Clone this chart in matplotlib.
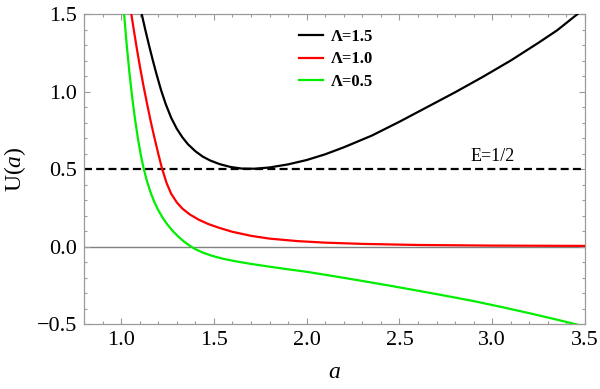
"""Potential U(a) for three values of Lambda, with the E=1/2 level."""

import matplotlib
matplotlib.use('Agg')
import matplotlib.pyplot as plt
from matplotlib.ticker import MultipleLocator, FuncFormatter

plt.rcParams['font.family'] = ['Liberation Serif', 'DejaVu Serif']
plt.rcParams['mathtext.fontset'] = 'custom'
plt.rcParams['mathtext.rm'] = 'Liberation Serif'
plt.rcParams['mathtext.it'] = 'Liberation Serif:italic'

# values
a_black = [1.111, 1.13, 1.15, 1.17, 1.19, 1.215, 1.24, 1.27, 1.30, 1.33, 1.36,
           1.40, 1.44, 1.48, 1.53, 1.59, 1.65, 1.72, 1.80, 1.90, 2.00, 2.10,
           2.20, 2.35, 2.50, 2.65, 2.80, 2.95, 3.10, 3.25, 3.35, 3.46]
u_black = [1.50, 1.40, 1.30, 1.205, 1.115, 1.01, 0.92, 0.83, 0.76, 0.705, 0.66,
           0.615, 0.58, 0.555, 0.532, 0.513, 0.503, 0.502, 0.51, 0.53, 0.558, 0.595,
           0.64, 0.715, 0.805, 0.90, 0.995, 1.095, 1.20, 1.315, 1.395, 1.50]

a_red = [1.055, 1.07, 1.085, 1.10, 1.12, 1.14, 1.16, 1.18, 1.20, 1.22, 1.245,
         1.27, 1.30, 1.33, 1.37, 1.42, 1.47, 1.53, 1.60, 1.70, 1.80, 1.95,
         2.10, 2.30, 2.60, 3.00, 3.50]
u_red = [1.50, 1.385, 1.275, 1.17, 1.04, 0.92, 0.805, 0.70, 0.60, 0.505, 0.41,
         0.34, 0.285, 0.245, 0.207, 0.172, 0.145, 0.12, 0.095, 0.069, 0.051, 0.035,
         0.025, 0.017, 0.01, 0.006, 0.004]

a_green = [1.016, 1.03, 1.045, 1.06, 1.075, 1.09, 1.105, 1.12, 1.14, 1.16, 1.18,
           1.20, 1.225, 1.25, 1.28, 1.31, 1.34, 1.37, 1.40, 1.44, 1.49, 1.55,
           1.62, 1.70, 1.80, 1.90, 2.00, 2.15, 2.30, 2.45, 2.60, 2.75,
           2.90, 3.05, 3.20, 3.35, 3.463]
u_green = [1.50, 1.304, 1.119, 0.96, 0.822, 0.702, 0.598, 0.511, 0.419, 0.345, 0.285,
           0.235, 0.184, 0.141, 0.098, 0.062, 0.031, 0.005, -0.017, -0.039, -0.06, -0.079,
           -0.096, -0.112, -0.13, -0.147, -0.163, -0.192, -0.222, -0.253, -0.285, -0.318,
           -0.352, -0.39, -0.43, -0.472, -0.505]

labels = ['Λ=1.5', 'Λ=1.0', 'Λ=0.5']
energy = 0.5

FRAME = '#9a9a9a'

fig = plt.figure(figsize=(6, 3.89), dpi=100)
ax = fig.add_axes([0.14, 0.167, 0.835, 0.797])

ax.axhline(0, color='#808080', lw=1.0, zorder=1)
ax.axhline(energy, color='black', lw=1.6, dashes=(3.6, 1.9), zorder=2)

ax.plot(a_black, u_black, color='black', lw=1.6, label=labels[0], zorder=3)
ax.plot(a_red, u_red, color='#ff0000', lw=1.6, label=labels[1], zorder=3)
ax.plot(a_green, u_green, color='#00ee00', lw=1.6, label=labels[2], zorder=3)

ax.text(3.0, 0.525, 'E=1/2', fontsize=13, ha='center', va='bottom')

ax.set_xlim(0.8, 3.5)
ax.set_ylim(-0.5, 1.5)
ax.xaxis.set_major_locator(MultipleLocator(0.5))
ax.xaxis.set_minor_locator(MultipleLocator(0.1))
ax.yaxis.set_major_locator(MultipleLocator(0.5))
ax.yaxis.set_minor_locator(MultipleLocator(0.1))
fmt = FuncFormatter(lambda v, pos: f'{v:.1f}'.replace('-', '\u2212'))
ax.xaxis.set_major_formatter(fmt)
ax.yaxis.set_major_formatter(fmt)

ax.tick_params(which='both', direction='in', top=True, right=True,
               color=FRAME, width=0.8, labelsize=16, pad=5)
ax.tick_params(which='major', length=4.5)
ax.tick_params(which='minor', length=2.2)
for sp in ax.spines.values():
    sp.set_color(FRAME)
    sp.set_linewidth(0.9)

ax.set_xlabel(r'$a$', fontsize=17, labelpad=9)
ax.set_ylabel(r'U($a$)', fontsize=17, labelpad=6)

leg = ax.legend(loc='upper left', bbox_to_anchor=(0.40, 1.0), frameon=False,
                handlelength=1.4, handletextpad=0.5, labelspacing=0.38,
                prop={'weight': 'bold', 'size': 12})

fig.savefig('out.png', dpi=100)
